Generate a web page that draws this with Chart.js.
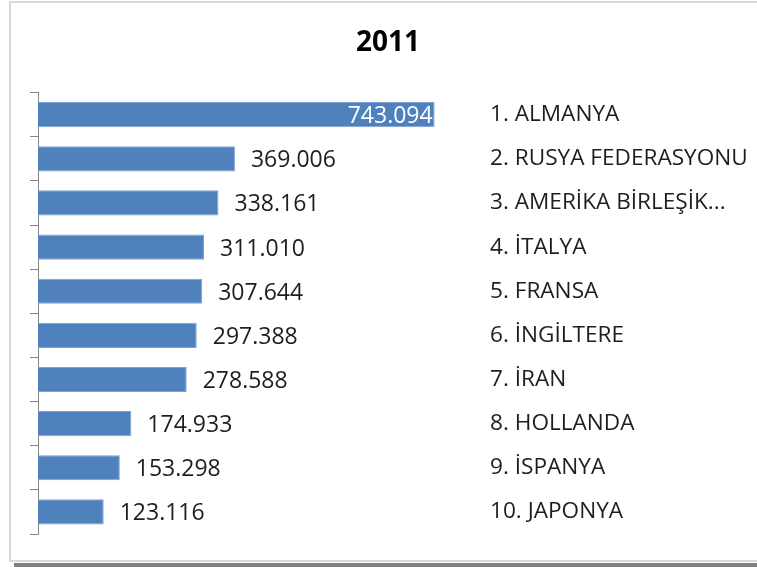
<!DOCTYPE html>
<html lang="tr">
<head>
<meta charset="utf-8">
<title>2011</title>
<script src="https://cdn.jsdelivr.net/npm/chart.js@4.4.0/dist/chart.umd.min.js"></script>
<style>
  html, body { margin: 0; padding: 0; background: #fff; }
  #sayfa { position: relative; width: 757px; height: 567px; overflow: hidden; }
  #cerceve { position: absolute; left: 9px; top: 1px; width: 820px; height: 561px; box-sizing: border-box; border: 2px solid #d9d9d9; border-right: none; }
  #golge { position: absolute; left: 14px; top: 563px; width: 760px; height: 4px; background: #808080; }
  #kutu { position: absolute; left: 0; top: 0; width: 757px; height: 567px; }
</style>
</head>
<body>
<div id="sayfa">
  <div id="cerceve"></div>
  <div id="golge"></div>
  <div id="kutu"><canvas id="grafik"></canvas></div>
</div>
<script>
// Veriler
const ulkeler = [
  '1. ALMANYA',
  '2. RUSYA FEDERASYONU',
  '3. AMERİKA BİRLEŞİK...',
  '4. İTALYA',
  '5. FRANSA',
  '6. İNGİLTERE',
  '7. İRAN',
  '8. HOLLANDA',
  '9. İSPANYA',
  '10. JAPONYA'
];
const ziyaretci = [743094, 369006, 338161, 311010, 307644, 297388, 278588, 174933, 153298, 123116];
const eksenMaks = 800000;

// 743094 -> "743.094"
function binlikNokta(v) {
  return String(v).replace(/\B(?=(\d{3})+(?!\d))/g, '.');
}

// Çubuk sonundaki değer etiketleri (sığmazsa çubuğun içine beyaz yazılır)
const degerEtiketi = {
  id: 'degerEtiketi',
  afterDatasetsDraw(chart) {
    const ctx = chart.ctx;
    const alan = chart.chartArea;
    const meta = chart.getDatasetMeta(0);
    ctx.save();
    ctx.font = '23px "Open Sans"';
    ctx.textBaseline = 'middle';
    meta.data.forEach((bar, i) => {
      const metin = binlikNokta(ziyaretci[i]);
      const w = ctx.measureText(metin).width;
      const y = bar.y + 2;
      if (bar.x + 16 + w > alan.right) {
        ctx.fillStyle = '#ffffff';
        ctx.textAlign = 'right';
        ctx.fillText(metin, bar.x - 2, y);
      } else {
        ctx.fillStyle = '#1e1e1e';
        ctx.textAlign = 'left';
        ctx.fillText(metin, bar.x + 16, y);
      }
    });
    ctx.restore();
  }
};

new Chart(document.getElementById('grafik'), {
  type: 'bar',
  data: {
    labels: ulkeler,
    datasets: [{
      data: ziyaretci,
      backgroundColor: '#4f81bd',
      borderColor: '#7fa1cf',
      borderWidth: 1,
      barPercentage: 0.57,
      categoryPercentage: 1
    }]
  },
  options: {
    indexAxis: 'y',
    responsive: true,
    maintainAspectRatio: false,
    animation: false,
    layout: { padding: { left: 30, right: 11, top: 0, bottom: 33 } },
    scales: {
      x: { display: false, min: 0, max: eksenMaks },
      y: {
        position: 'left',
        grid: { drawOnChartArea: false, tickLength: 8, color: '#868686', offset: true },
        border: { color: '#868686', width: 1 },
        ticks: { display: false },
        afterFit(s) { s.width = 8; }
      },
      y2: {
        type: 'category',
        position: 'right',
        offset: true,
        grid: { drawOnChartArea: false, tickLength: 17, color: 'rgba(0,0,0,0)' },
        border: { display: false },
        ticks: { padding: 8, color: '#1e1e1e', font: { family: 'Open Sans', size: 22.6 } },
        afterFit(s) { s.width = 281; }
      }
    },
    plugins: {
      legend: { display: false },
      tooltip: { enabled: false },
      title: {
        display: true,
        text: '2011',
        color: '#000000',
        font: { family: 'Open Sans', size: 28, weight: 'bold' },
        padding: { top: 26, bottom: 33 }
      }
    }
  },
  plugins: [degerEtiketi]
});
</script>
</body>
</html>
